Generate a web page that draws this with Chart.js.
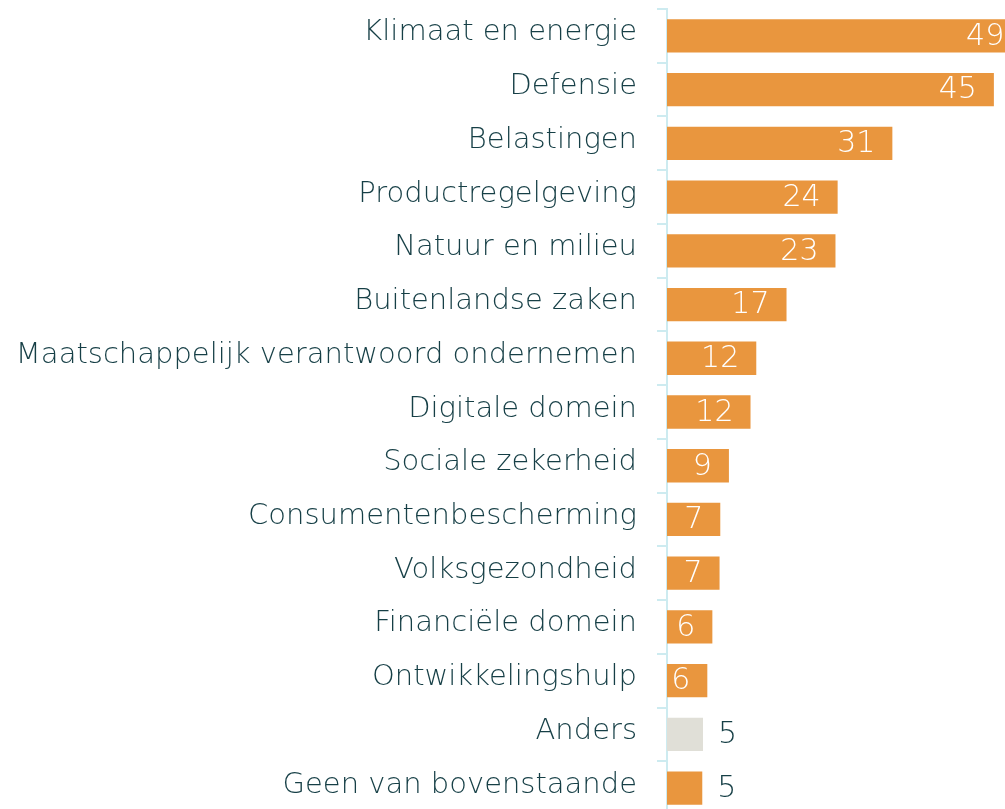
<!DOCTYPE html>
<html>
<head>
<meta charset="utf-8">
<script src="https://cdn.jsdelivr.net/npm/chart.js@4/dist/chart.umd.min.js"></script>
<style>
  html, body { margin: 0; padding: 0; background: #fff; overflow: hidden; }
  #chart { display: block; }
</style>
</head>
<body>
<canvas id="chart" width="1027" height="815"></canvas>
<script>
// categories, top to bottom
const categories = [
  "Klimaat en energie",
  "Defensie",
  "Belastingen",
  "Productregelgeving",
  "Natuur en milieu",
  "Buitenlandse zaken",
  "Maatschappelijk verantwoord ondernemen",
  "Digitale domein",
  "Sociale zekerheid",
  "Consumentenbescherming",
  "Volksgezondheid",
  "Financiële domein",
  "Ontwikkelingshulp",
  "Anders",
  "Geen van bovenstaande"
];
// bar lengths (the labels are rounded)
const values = [49.2, 45.4, 31.3, 23.7, 23.4, 16.6, 12.4, 11.6, 8.6, 7.4, 7.3, 6.3, 5.6, 5.0, 4.9];
const valueLabels = ["49", "45", "31", "24", "23", "17", "12", "12", "9", "7", "7", "6", "6", "5", "5"];

const orange = "#E9963E";
const grey = "#E0DFD7";
const textColor = "#163F46";
const axisColor = "#CDEBF0";
const fontFamily = "'DejaVu Sans', sans-serif";

const barColors = categories.map((c) => (c === "Anders" ? grey : orange));

// draws the numbers inside (white) or just after (dark) each bar
const valueLabelPlugin = {
  id: "valueLabels",
  afterDatasetsDraw(chart) {
    const ctx = chart.ctx;
    const meta = chart.getDatasetMeta(0);
    ctx.save();
    ctx.font = "200 30px " + fontFamily;
    ctx.textBaseline = "middle";
    meta.data.forEach((bar, i) => {
      const text = valueLabels[i];
      const len = bar.x - bar.base;
      if (len > 38) {
        ctx.fillStyle = "#ffffff";
        ctx.textAlign = "right";
        ctx.fillText(text, bar.x - 17, bar.y + 1);
      } else {
        ctx.fillStyle = textColor;
        ctx.textAlign = "left";
        ctx.fillText(text, bar.x + 15, bar.y + 1);
      }
    });
    ctx.restore();
  },
};

new Chart(document.getElementById("chart").getContext("2d"), {
  type: "bar",
  data: {
    labels: categories,
    datasets: [
      {
        data: values,
        backgroundColor: barColors,
        borderWidth: 0,
        categoryPercentage: 1,
        barPercentage: 0.62,
      },
    ],
  },
  options: {
    indexAxis: "y",
    responsive: false,
    animation: false,
    devicePixelRatio: 1,
    layout: { padding: { top: 9, right: 0, bottom: 0, left: 0 } },
    plugins: {
      legend: { display: false },
      tooltip: { enabled: false },
    },
    scales: {
      x: {
        display: false,
        min: 0,
        max: 50,
      },
      y: {
        afterFit: (scale) => {
          scale.width = 667;
          scale.paddingTop = 0;
          scale.paddingBottom = 0;
        },
        border: { display: true, color: axisColor, width: 2 },
        grid: {
          offset: true,
          drawOnChartArea: false,
          drawTicks: true,
          tickLength: 10,
          color: axisColor,
          lineWidth: 2,
        },
        ticks: {
          color: textColor,
          padding: 20,
          labelOffset: -3,
          font: { family: fontFamily, size: 29, weight: 200 },
        },
      },
    },
  },
  plugins: [valueLabelPlugin],
});
</script>
</body>
</html>
